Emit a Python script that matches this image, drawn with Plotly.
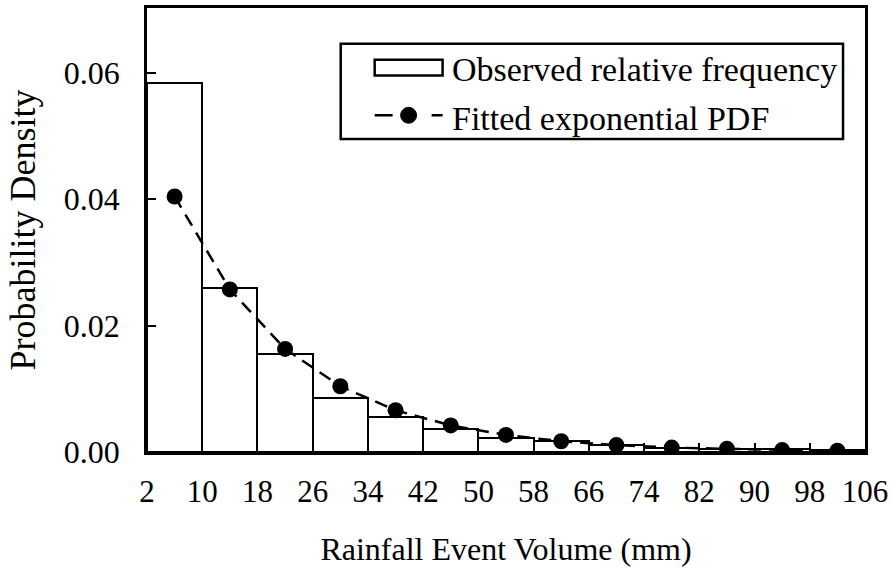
import plotly.graph_objects as go

bin_centers = [6, 14, 22, 30, 38, 46, 54, 62, 70, 78, 86, 94, 102]
observed_freq = [0.0584, 0.0259, 0.0155, 0.0086, 0.0056, 0.0037, 0.0022, 0.0017, 0.0011, 0.0007, 0.0005, 0.0004, 0.0003]
fitted_pdf = [0.0404, 0.0257, 0.0163, 0.0104, 0.0066, 0.0042, 0.0027, 0.0017, 0.0011, 0.0007, 0.0005, 0.0003, 0.0002]
x_ticks = [2, 10, 18, 26, 34, 42, 50, 58, 66, 74, 82, 90, 98, 106]
y_ticks = [0.0, 0.02, 0.04, 0.06]
bin_width = 8
legend_labels = ["Observed relative frequency", "Fitted exponential PDF"]

font = "Liberation Serif, Times New Roman, serif"

fig = go.Figure()
fig.add_trace(go.Bar(
    x=bin_centers, y=observed_freq, width=[bin_width] * len(bin_centers),
    marker=dict(color="white", line=dict(color="black", width=2)),
    name=legend_labels[0], showlegend=False,
))
fig.add_trace(go.Scatter(
    x=bin_centers, y=fitted_pdf, mode="lines+markers",
    line=dict(color="black", width=2.5, dash="13px,8px"),
    marker=dict(color="black", size=16),
    name=legend_labels[1], showlegend=False,
))

# ---- hand-drawn legend (paper coordinates) ----
P = dict(xref="paper", yref="paper")
shapes = [
    dict(type="rect", x0=0.2698, x1=0.9694, y0=0.7047, y1=0.9195,
         line=dict(color="black", width=2.5), fillcolor="white", **P),
    dict(type="rect", x0=0.3171, x1=0.4117, y0=0.8479, y1=0.8837,
         line=dict(color="black", width=2.5), fillcolor="white", **P),
    dict(type="line", x0=0.3171, x1=0.3421, y0=0.7584, y1=0.7584,
         line=dict(color="black", width=2.5), **P),
    dict(type="line", x0=0.3964, x1=0.4117, y0=0.7584, y1=0.7584,
         line=dict(color="black", width=2.5), **P),
    dict(type="circle", x0=0.3532, x1=0.3755, y0=0.7405, y1=0.7763,
         line=dict(color="black", width=1), fillcolor="black", **P),
]
for s in shapes:
    fig.add_shape(**s)
fig.add_annotation(x=0.4214, y=0.8610, text=legend_labels[0], showarrow=False,
                   xanchor="left", yanchor="middle", font=dict(family=font, size=34), **P)
fig.add_annotation(x=0.4214, y=0.7520, text=legend_labels[1], showarrow=False,
                   xanchor="left", yanchor="middle", font=dict(family=font, size=34), **P)

fig.update_layout(
    width=893, height=576,
    margin=dict(l=147, r=27, t=5, b=124),
    paper_bgcolor="white", plot_bgcolor="white",
    font=dict(family=font, size=32, color="black"),
    bargap=0,
    showlegend=False,
    xaxis=dict(
        range=[2, 106], tickvals=x_ticks, ticks="inside", ticklen=9, tickwidth=2,
        tickcolor="black", showline=True, linecolor="black", linewidth=2.5, mirror=True,
        showgrid=False, zeroline=False, ticklabelstandoff=10,
        tickfont=dict(size=31),
        title=dict(text="Rainfall Event Volume (mm)", standoff=30, font=dict(size=32)),
    ),
    yaxis=dict(
        range=[0, 0.0702], tickvals=y_ticks, tickformat=".2f", ticks="inside", ticklen=9,
        tickwidth=2, tickcolor="black", showline=True, linecolor="black", linewidth=2.5,
        mirror=True, showgrid=False, zeroline=False, ticklabelstandoff=18,
        tickfont=dict(size=32),
        title=dict(text="Probability Density", standoff=18, font=dict(size=36)),
    ),
)

fig.write_html("out.html")
